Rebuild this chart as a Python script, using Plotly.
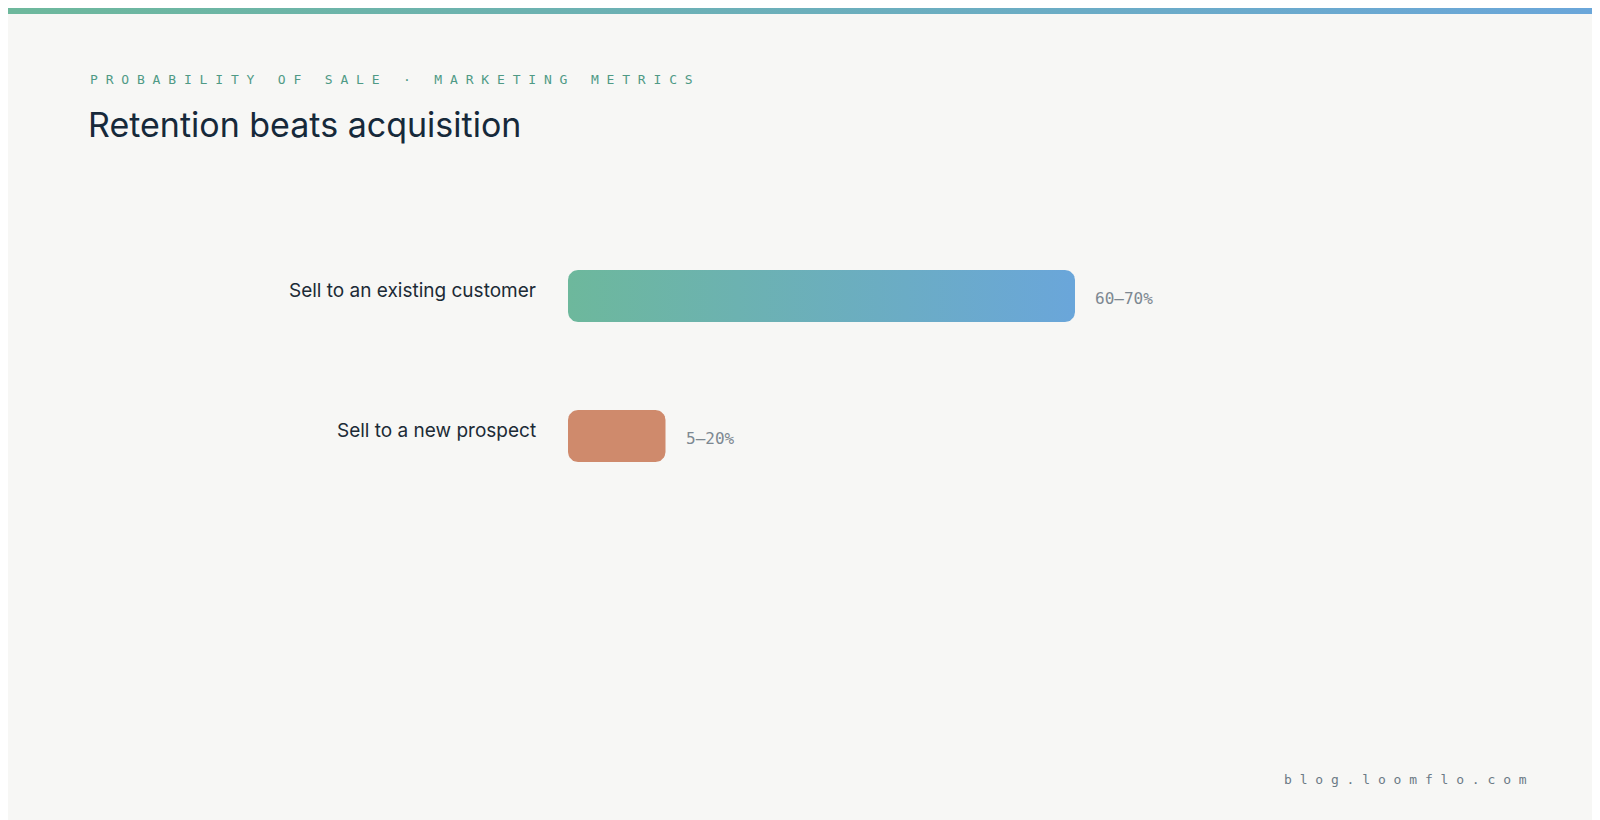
import plotly.graph_objects as go

categories = ["Sell to an existing customer", "Sell to a new prospect"]
values = [65, 12.5]
value_labels = ["60–70%", "5–20%"]

W, H = 1600, 820
BG = "#f7f7f5"
fig = go.Figure()

# axis geometry
x_range = [0, 100]
x_dom = [560 / W, 1340 / W]
px_per_x = (x_dom[1] - x_dom[0]) * W / (x_range[1] - x_range[0])
y_top, y_bot = 218, 498
px_per_y = (y_bot - y_top) / 2.0
half_h = 26 / px_per_y
r_px = 10
rx, ry = r_px / px_per_x, r_px / px_per_y

import math
def rounded_rect(x0, x1, yc):
    y0, y1 = yc - half_h, yc + half_h
    xs, ys = [], []
    corners = [(x1 - rx, y0 + ry, -90, 0), (x1 - rx, y1 - ry, 0, 90),
               (x0 + rx, y1 - ry, 90, 180), (x0 + rx, y0 + ry, 180, 270)]
    for cx, cy, a0, a1 in corners:
        for k in range(9):
            a = math.radians(a0 + (a1 - a0) * k / 8)
            xs.append(cx + rx * math.cos(a))
            ys.append(cy + ry * math.sin(a))
    xs.append(xs[0]); ys.append(ys[0])
    return xs, ys

grad = [[0, "#6db89c"], [1, "#6aa6da"]]
for i, (cat, v) in enumerate(zip(categories, values)):
    xs, ys = rounded_rect(0, v, i)
    kw = dict(fillgradient=dict(type="horizontal", colorscale=grad)) if i == 0 else dict(fillcolor="#cf8a6c")
    fig.add_trace(go.Scatter(x=xs, y=ys, mode="lines", fill="toself", line=dict(width=0),
                             hoverinfo="skip", showlegend=False, **kw))
    fig.add_annotation(x=530 / W, xref="paper", y=i, yref="y", text=cat, showarrow=False,
                       xanchor="right", yanchor="middle", yshift=6,
                       font=dict(family="Inter", size=19, color="#1c2b36"))
    fig.add_annotation(x=v, xref="x", y=i, yref="y", text=value_labels[i], showarrow=False,
                       xanchor="left", yanchor="middle", xshift=18, yshift=-2,
                       font=dict(family="DejaVu Sans Mono", size=16, color="#7d8891"))

# top stripe
fig.add_trace(go.Scatter(x=[0, 1, 1, 0, 0], y=[0, 0, 1, 1, 0], xaxis="x2", yaxis="y2", mode="lines",
                         fill="toself", line=dict(width=0), hoverinfo="skip", showlegend=False,
                         fillgradient=dict(type="horizontal", colorscale=grad)))

nb = "\u00a0"
def spaced(s):
    return nb.join(ch if ch != " " else nb for ch in s)

fig.add_annotation(x=80 / W, y=1 - 72 / H, xref="paper", yref="paper", showarrow=False,
                   xanchor="left", yanchor="middle", text=spaced("PROBABILITY OF SALE · MARKETING METRICS"),
                   font=dict(family="DejaVu Sans Mono", size=13, color="#4f9a85"))
fig.add_annotation(x=78 / W, y=1 - 116 / H, xref="paper", yref="paper", showarrow=False,
                   xanchor="left", yanchor="middle", text="Retention beats acquisition",
                   font=dict(family="Inter", size=34, color="#16293a"))
fig.add_annotation(x=1521 / W, y=1 - 771 / H, xref="paper", yref="paper", showarrow=False,
                   xanchor="right", yanchor="middle", text="b l o g . l o o m f l o . c o m".replace(" ", "\u200a"),
                   font=dict(family="DejaVu Sans Mono", size=13, color="#6b7a85"))

fig.update_layout(
    width=W, height=H, margin=dict(l=0, r=0, t=0, b=0),
    paper_bgcolor=BG, plot_bgcolor=BG,
    xaxis=dict(range=x_range, domain=x_dom, visible=False, fixedrange=True),
    yaxis=dict(range=[1.5, -0.5], domain=[1 - y_bot / H, 1 - y_top / H], visible=False, fixedrange=True),
    xaxis2=dict(range=[0, 1], domain=[0, 1], visible=False, anchor="y2"),
    yaxis2=dict(range=[0, 1], domain=[1 - 6 / H, 1], visible=False, anchor="x2"),
)
fig.write_html("out.html", config={"displayModeBar": False})
